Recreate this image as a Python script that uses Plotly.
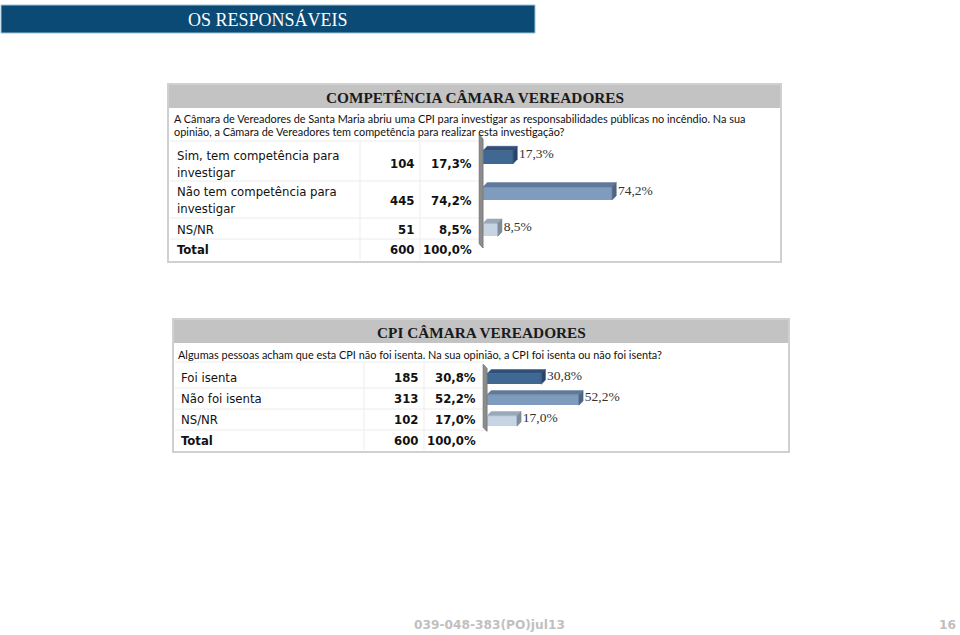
import plotly.graph_objects as go

W, H = 960, 635

# ---------------- data ----------------
header_title = "OS RESPONSÁVEIS"

p1_title = "COMPETÊNCIA CÂMARA VEREADORES"
p1_question = ["A Câmara de Vereadores de Santa Maria abriu uma CPI para investigar as responsabilidades públicas no incêndio. Na sua",
               "opinião, a Câmara de Vereadores tem competência para realizar esta investigação?"]
p1_categories = ["Sim, tem competência para<br>investigar", "Não tem competência para<br>investigar", "NS/NR"]
p1_counts = [104, 445, 51]
p1_pcts = [17.3, 74.2, 8.5]
p1_total = 600

p2_title = "CPI CÂMARA VEREADORES"
p2_question = ["Algumas pessoas acham que esta CPI não foi isenta. Na sua opinião, a CPI foi isenta ou não foi isenta?"]
p2_categories = ["Foi isenta", "Não foi isenta", "NS/NR"]
p2_counts = [185, 313, 102]
p2_pcts = [30.8, 52.2, 17.0]
p2_total = 600

footer_code = "039-048-383(PO)jul13"
footer_page = "16"

front_colors = ["#3f6893", "#7f9cbf", "#c6d4e4"]
top_colors = ["#2f5078", "#5f7a9b", "#9aa9ba"]
side_colors = ["#2a4468", "#4f6584", "#7f8c9a"]

TABLE_FONT = "DejaVu Sans Condensed, Noto Sans, sans-serif"


def px(x):
    return x / W


def py(y):
    return 1 - y / H


def fmt(v):
    return f"{v:.1f}".replace(".", ",") + "%"


fig = go.Figure()
shapes = []
ann = []


def add_text(text, x, y, size, family, color, xanchor="center", align="left"):
    ann.append(dict(text=text, x=px(x), y=py(y), xref="paper", yref="paper", showarrow=False,
                    xanchor=xanchor, yanchor="middle", align=align,
                    font=dict(family=family, size=size, color=color)))


# header
shapes.append(dict(type="rect", xref="paper", yref="paper", x0=px(1), x1=px(535), y0=py(33), y1=py(5),
                   fillcolor="#0b4a74", line=dict(color="#9cc3d8", width=1)))
add_text(header_title, 268, 19, 18, "Liberation Serif", "white")


def panel(box, title_bar_bottom, title, question, q_y, q_x, cats, counts, pcts, total, row_ys,
          num_x, pct_x, lines_y, vlines_x, axis_id, x_dom, y_dom, bar_w, dx, dy,
          text_size, q_size):
    x0, y0, x1, y1 = box
    shapes.append(dict(type="rect", xref="paper", yref="paper", x0=px(x0), x1=px(x1), y0=py(y1), y1=py(y0),
                       fillcolor="white", line=dict(color="#d0d0d0", width=2), layer="below"))
    shapes.append(dict(type="rect", xref="paper", yref="paper", x0=px(x0 + 1), x1=px(x1 - 1),
                       y0=py(title_bar_bottom), y1=py(y0 + 1),
                       fillcolor="#c3c3c3", line=dict(width=0), layer="below"))
    add_text("<b>" + title + "</b>", (x0 + x1) / 2, (y0 + title_bar_bottom) / 2 + 1, 15.3,
             "Liberation Serif", "#1a1a1a")
    for i, q in enumerate(question):
        add_text(q, q_x, q_y + i * 14, q_size, "Lato", "#111", xanchor="left")
    for ly in lines_y:
        shapes.append(dict(type="line", xref="paper", yref="paper", x0=px(x0 + 2), x1=px(vlines_x[-1] + 60),
                           y0=py(ly), y1=py(ly), line=dict(color="#ececec", width=1), layer="below"))
    for vx in vlines_x:
        shapes.append(dict(type="line", xref="paper", yref="paper", x0=px(vx), x1=px(vx),
                           y0=py(row_ys[-1] + 10), y1=py(lines_y[0]), line=dict(color="#ececec", width=1),
                           layer="below"))
    rows = list(zip(cats, counts, [fmt(p) for p in pcts])) + [("<b>Total</b>", total, "100,0%")]
    for (c, n, p), ry in zip(rows, row_ys):
        add_text(c, q_x + 3, ry, text_size, TABLE_FONT, "#111", xanchor="left")
        add_text(f"<b>{n}</b>", num_x, ry, text_size, TABLE_FONT, "#111", xanchor="right")
        add_text(f"<b>{p}</b>", pct_x, ry, text_size, TABLE_FONT, "#111", xanchor="right")

    xa = "x" if axis_id == 1 else f"x{axis_id}"
    ya = "y" if axis_id == 1 else f"y{axis_id}"
    ypos = list(range(len(cats)))
    # wall
    fig.add_trace(go.Scatter(x=[-dx * 0.9, 0, 0, -dx * 0.9, -dx * 0.9],
                             y=[-0.5 - dy, -0.5, len(cats) - 0.5, len(cats) - 0.5 - dy, -0.5 - dy],
                             fill="toself", fillcolor="#8c8c8c", line=dict(color="#7a7a7a", width=1),
                             mode="lines", hoverinfo="skip", xaxis=xa, yaxis=ya, showlegend=False))
    for i, (v, yy) in enumerate(zip(pcts, ypos)):
        top = yy - bar_w / 2
        bot = yy + bar_w / 2
        fig.add_trace(go.Scatter(x=[0, v, v + dx, dx, 0], y=[top, top, top - dy, top - dy, top],
                                 fill="toself", fillcolor=top_colors[i], line=dict(color=top_colors[i], width=0.5),
                                 mode="lines", hoverinfo="skip", xaxis=xa, yaxis=ya, showlegend=False))
        fig.add_trace(go.Scatter(x=[v, v + dx, v + dx, v, v], y=[top, top - dy, bot - dy, bot, top],
                                 fill="toself", fillcolor=side_colors[i], line=dict(color=side_colors[i], width=0.5),
                                 mode="lines", hoverinfo="skip", xaxis=xa, yaxis=ya, showlegend=False))
    fig.add_trace(go.Bar(x=pcts, y=ypos, orientation="h", width=bar_w,
                         marker=dict(color=front_colors, line=dict(width=0)),
                         xaxis=xa, yaxis=ya, showlegend=False, hoverinfo="skip"))
    fig.add_trace(go.Scatter(x=[v + dx * 1.4 for v in pcts], y=[yy - dy / 2 for yy in ypos], mode="text",
                             text=[fmt(p) for p in pcts], textposition="middle right",
                             textfont=dict(family="Liberation Serif", size=13.5, color="#333"),
                             xaxis=xa, yaxis=ya, showlegend=False, hoverinfo="skip"))
    axis_common = dict(showgrid=False, zeroline=False, showticklabels=False, ticks="", showline=False,
                       fixedrange=True)
    fig.layout[("xaxis" if axis_id == 1 else f"xaxis{axis_id}")] = dict(
        domain=[px(x_dom[0]), px(x_dom[1])], range=[-3, 100], anchor=ya, **axis_common)
    fig.layout[("yaxis" if axis_id == 1 else f"yaxis{axis_id}")] = dict(
        domain=[py(y_dom[1]), py(y_dom[0])], range=[len(cats) - 0.5, -0.5 - 0.25], anchor=xa, **axis_common)


panel(box=(168, 84, 781, 262), title_bar_bottom=108, title=p1_title, question=p1_question, q_y=118, q_x=172,
      cats=p1_categories, counts=p1_counts, pcts=p1_pcts, total=p1_total,
      row_ys=[164, 200, 229, 250], num_x=416, pct_x=474,
      lines_y=[141, 181, 218, 239], vlines_x=[360, 420], axis_id=1,
      x_dom=(483 - 3 * 1.74, 483 + 100 * 1.74), y_dom=(139 - 0.25 * 36.3, 248), bar_w=0.36, dx=2.4, dy=0.12,
      text_size=13, q_size=10.9)

panel(box=(173, 319, 789, 452), title_bar_bottom=343, title=p2_title, question=p2_question, q_y=354, q_x=176,
      cats=p2_categories, counts=p2_counts, pcts=p2_pcts, total=p2_total,
      row_ys=[377, 398, 419, 440], num_x=420, pct_x=478,
      lines_y=[362, 388, 409, 430], vlines_x=[364, 424], axis_id=2,
      x_dom=(487 - 3 * 1.76, 487 + 100 * 1.76), y_dom=(368.5 - 0.25 * 21, 431.5), bar_w=0.5, dx=2.4, dy=0.2,
      text_size=13, q_size=10.9)

add_text("<b>" + footer_code + "</b>", 489, 625, 12.2, "DejaVu Sans", "#c0c0c0")
add_text("<b>" + footer_page + "</b>", 958, 625, 12.2, "DejaVu Sans", "#c0c0c0", xanchor="right")

fig.update_layout(width=W, height=H, margin=dict(l=0, r=0, t=0, b=0), paper_bgcolor="white",
                  plot_bgcolor="rgba(0,0,0,0)", shapes=shapes, annotations=ann, bargap=0)
fig.write_html("out.html")
